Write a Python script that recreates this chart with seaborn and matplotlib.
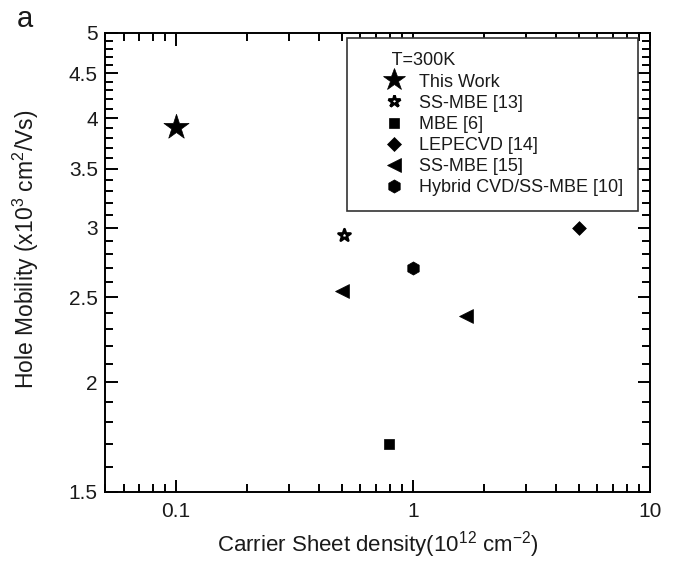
import numpy as np
import pandas as pd
import seaborn as sns
import matplotlib
matplotlib.use("Agg")
import matplotlib.pyplot as plt
from matplotlib.lines import Line2D
from matplotlib.ticker import FixedLocator, FixedFormatter, NullFormatter

# ---- data ----
this_work_x = [0.10]
this_work_y = [3.91]
ssmbe13_x = [0.51]
ssmbe13_y = [2.94]
mbe6_x = [0.79]
mbe6_y = [1.70]
lepecvd_x = [5.0]
lepecvd_y = [3.00]
ssmbe15_x = [0.50, 1.68]
ssmbe15_y = [2.54, 2.38]
hybrid_x = [1.0]
hybrid_y = [2.70]

labels = ["This Work", "SS-MBE [13]", "MBE [6]", "LEPECVD [14]", "SS-MBE [15]",
          "Hybrid CVD/SS-MBE [10]"]
y_major = [1.5, 2, 2.5, 3, 3.5, 4, 4.5, 5]
y_major_labels = ["1.5", "2", "2.5", "3", "3.5", "4", "4.5", "5"]
x_major = [0.1, 1, 10]
x_major_labels = ["0.1", "1", "10"]

sns.set_theme(style="ticks")
plt.rcParams['font.family'] = ['Liberation Sans', 'DejaVu Sans']
plt.rcParams['mathtext.fontset'] = 'custom'
plt.rcParams['mathtext.rm'] = 'Liberation Sans'
plt.rcParams['mathtext.it'] = 'Liberation Sans'
plt.rcParams['mathtext.bf'] = 'Liberation Sans:bold'

fig, ax = plt.subplots(figsize=(6.76, 5.62), dpi=100)
fig.subplots_adjust(left=0.155, right=0.9615, bottom=0.1246, top=0.9413)

series = [
    (this_work_x, this_work_y, '*', 19, 'black', 'black', 0.5),
    (ssmbe13_x, ssmbe13_y, '*', 9.0, 'white', 'black', 2.0),
    (mbe6_x, mbe6_y, 's', 7.5, 'black', 'black', 0.5),
    (lepecvd_x, lepecvd_y, 'D', 7.0, 'black', 'black', 0.5),
    (ssmbe15_x, ssmbe15_y, '<', 10, 'black', 'black', 0.5),
    (hybrid_x, hybrid_y, 'h', 9.5, 'black', 'black', 0.5),
]

handles = []
for (xs, ys, mk, ms, fc, ec, lw), lab in zip(series, labels):
    df = pd.DataFrame({"x": xs, "y": ys})
    sns.scatterplot(data=df, x="x", y="y", marker=mk, s=ms ** 2, color=fc,
                    edgecolor=ec, linewidth=lw, ax=ax, legend=False, zorder=3)
    handles.append(Line2D([], [], linestyle='none', marker=mk,
                          markersize=(ms * 0.88 if mk == '*' and ms > 15 else ms),
                          markerfacecolor=fc, markeredgecolor=ec,
                          markeredgewidth=lw))

ax.set_xscale('log')
ax.set_yscale('log')
ax.set_xlim(0.05, 10)
ax.set_ylim(1.5, 5)

ax.yaxis.set_major_locator(FixedLocator(y_major))
ax.yaxis.set_major_formatter(FixedFormatter(y_major_labels))
y_minor = [v / 10 for v in range(15, 51) if (v % 5) != 0]
ax.yaxis.set_minor_locator(FixedLocator(y_minor))
ax.yaxis.set_minor_formatter(NullFormatter())
ax.xaxis.set_major_locator(FixedLocator(x_major))
ax.xaxis.set_major_formatter(FixedFormatter(x_major_labels))
x_minor = [m * 10.0 ** e for e in (-2, -1, 0) for m in range(2, 10)]
ax.xaxis.set_minor_locator(FixedLocator(x_minor))
ax.xaxis.set_minor_formatter(NullFormatter())

ax.tick_params(which='both', direction='in', top=True, right=True,
               width=1.4, color='black', labelcolor='#1a1a1a')
ax.tick_params(which='major', length=9, labelsize=15)
ax.tick_params(which='minor', length=5.5)
ax.tick_params(axis='x', which='major', pad=7)
ax.tick_params(axis='y', which='major', pad=5)
for sp in ax.spines.values():
    sp.set_linewidth(1.4)
    sp.set_color('black')

ax.set_xlabel("Carrier Sheet density(10$^{12}$ cm$^{-2}$)", fontsize=16,
              labelpad=6, color='#1a1a1a')
ax.set_ylabel("Hole Mobility (x10$^{3}$ cm$^{2}$/Vs)", fontsize=16.5,
              color='#1a1a1a')
ax.yaxis.set_label_coords(-0.117, 0.529)

leg = ax.legend(handles, labels, loc='upper right',
                bbox_to_anchor=(0.978, 0.989), fontsize=13,
                title="      T=300K", title_fontsize=13, alignment='left',
                frameon=True, fancybox=False, edgecolor='#333333',
                framealpha=1, borderpad=0.8, labelspacing=0.23,
                handlelength=3.62, handletextpad=-0.42, borderaxespad=0)
leg.get_frame().set_linewidth(1.2)
for t in leg.get_texts():
    t.set_color('#1a1a1a')
leg.get_title().set_color('#1a1a1a')

fig.text(0.025, 0.952, "a", fontsize=21, ha='left', va='baseline', color='#1a1a1a')

fig.savefig("out.png", dpi=100)
